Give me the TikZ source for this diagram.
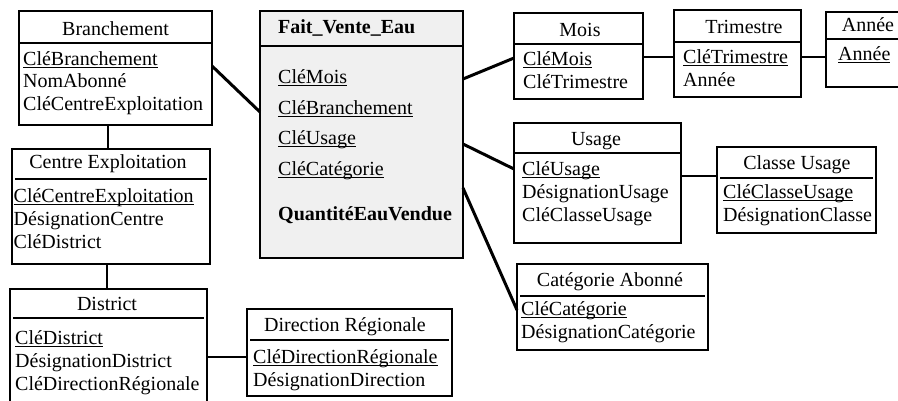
\documentclass[tikz,border=0pt]{standalone}
\usepackage{fontspec}
\setmainfont{Liberation Serif}
% underlined key attribute with a fixed rule depth
\newsavebox\ukbox
\newcommand\ukey[1]{\sbox\ukbox{#1}\rlap{\rule[-2.6pt]{\wd\ukbox}{0.9pt}}\usebox\ukbox}

\begin{document}
\begin{tikzpicture}[x=1pt,y=-1pt,
  box/.style={draw,line width=1.1pt,inner sep=0pt,outer sep=0pt,anchor=north west},
  sepline/.style={line width=1.4pt},
  txt/.style={inner sep=0pt,anchor=base west,font=\fontsize{20}{23}\selectfont},
  ttl/.style={inner sep=0pt,anchor=base,font=\fontsize{20}{23}\selectfont},
  thinlink/.style={line width=1.4pt},
  thicklink/.style={line width=3pt}]
\useasboundingbox (0,0) rectangle (898,400);
\clip (0,0) rectangle (898,400);

% ---------- fact table ----------
\node[box,fill=gray!12,minimum width=203pt,minimum height=247pt] (fait) at (260,11) {};
\draw[sepline] ([yshift=-35pt]fait.north west) -- ([yshift=-35pt]fait.north east);
\node[txt,font=\fontsize{20}{23}\selectfont\bfseries] (f0) at (278,33) {Fait\_Vente\_Eau};
\node[txt] (f1) at (278,83.5) {\ukey{CléMois}};
\node[txt] (f2) at (278,114) {\ukey{CléBranchement}};
\node[txt] (f3) at (278,144) {\ukey{CléUsage}};
\node[txt] (f4) at (278,175) {\ukey{CléCatégorie}};
\node[txt,font=\fontsize{20}{23}\selectfont\bfseries] (f5) at (278,220) {QuantitéEauVendue};

% ---------- Branchement ----------
\node[box,minimum width=193pt,minimum height=114pt] (branch) at (19,11) {};
\draw[sepline] ([yshift=-32pt]branch.north west) -- ([yshift=-32pt]branch.north east);
\node[ttl] (b0) at (115.5,35) {Branchement};
\node[txt] (b1) at (23,65) {\ukey{CléBranchement}};
\node[txt] (b2) at (23,87.5) {NomAbonné};
\node[txt] (b3) at (23,110) {CléCentreExploitation};

% ---------- Centre Exploitation ----------
\node[box,minimum width=198pt,minimum height=115pt] (centre) at (12,149) {};
\draw[sepline] ([shift={(3pt,-30pt)}]centre.north west) -- ([shift={(-3pt,-30pt)}]centre.north east);
\node[ttl] (c0) at (108,168) {Centre Exploitation};
\node[txt] (c1) at (13.5,202) {\ukey{CléCentreExploitation}};
\node[txt] (c2) at (13.5,225) {DésignationCentre};
\node[txt] (c3) at (13.5,248) {CléDistrict};

% ---------- District ----------
\node[box,minimum width=197pt,minimum height=125pt] (district) at (10,289) {};
\draw[sepline] ([shift={(3pt,-29pt)}]district.north west) -- ([shift={(-3pt,-29pt)}]district.north east);
\node[ttl] (d0) at (107,310) {District};
\node[txt] (d1) at (15,344) {\ukey{CléDistrict}};
\node[txt] (d2) at (15,367) {DésignationDistrict};
\node[txt] (d3) at (15,390) {CléDirectionRégionale};

% ---------- Direction Régionale ----------
\node[box,minimum width=205pt,minimum height=87pt] (direction) at (247,309) {};
\draw[sepline] ([shift={(3pt,-31pt)}]direction.north west) -- ([shift={(-3pt,-31pt)}]direction.north east);
\node[ttl] (r0) at (345,331) {Direction Régionale};
\node[txt] (r1) at (253,363) {\ukey{CléDirectionRégionale}};
\node[txt] (r2) at (253,386) {DésignationDirection};

% ---------- Mois ----------
\node[box,minimum width=129pt,minimum height=86pt] (mois) at (514,13) {};
\draw[sepline] ([yshift=-31pt]mois.north west) -- ([yshift=-31pt]mois.north east);
\node[ttl] (m0) at (580,36) {Mois};
\node[txt] (m1) at (523,65) {\ukey{CléMois}};
\node[txt] (m2) at (523,88) {CléTrimestre};

% ---------- Trimestre ----------
\node[box,minimum width=127pt,minimum height=87pt] (trimestre) at (674,10) {};
\draw[sepline] ([yshift=-32pt]trimestre.north west) -- ([yshift=-32pt]trimestre.north east);
\node[ttl] (q0) at (744,33) {Trimestre};
\node[txt] (q1) at (683,63) {\ukey{CléTrimestre}};
\node[txt] (q2) at (683,86) {Année};

% ---------- Année ----------
\node[box,minimum width=90pt,minimum height=75pt] (annee) at (826,12) {};
\draw[sepline] ([yshift=-27pt]annee.north west) -- ([yshift=-27pt]annee.north east);
\node[ttl] (a0) at (868,31) {Année};
\node[txt] (a1) at (838,60) {\ukey{Année}};

% ---------- Usage ----------
\node[box,minimum width=167pt,minimum height=120pt] (usage) at (514,123) {};
\draw[sepline] ([yshift=-30pt]usage.north west) -- ([yshift=-30pt]usage.north east);
\node[ttl] (u0) at (596,145) {Usage};
\node[txt] (u1) at (522,175) {\ukey{CléUsage}};
\node[txt] (u2) at (522,198) {DésignationUsage};
\node[txt] (u3) at (522,221) {CléClasseUsage};

% ---------- Classe Usage ----------
\node[box,minimum width=159pt,minimum height=86pt] (classe) at (717,147) {};
\draw[sepline] ([shift={(3pt,-31pt)}]classe.north west) -- ([shift={(-3pt,-31pt)}]classe.north east);
\node[ttl] (k0) at (797,169) {Classe Usage};
\node[txt] (k1) at (723,198) {\ukey{CléClasseUsage}};
\node[txt] (k2) at (723,221) {DésignationClasse};

% ---------- Catégorie Abonné ----------
\node[box,minimum width=191pt,minimum height=86pt] (categorie) at (517,264) {};
\draw[sepline] ([shift={(3pt,-32pt)}]categorie.north west) -- ([shift={(-3pt,-32pt)}]categorie.north east);
\node[ttl] (g0) at (610,286) {Catégorie Abonné};
\node[txt] (g1) at (521,315) {\ukey{CléCatégorie}};
\node[txt] (g2) at (521,338) {DésignationCatégorie};

% ---------- links between fact table and dimensions ----------
\draw[thicklink] ([yshift=-55pt]branch.north east) -- ([yshift=-101pt]fait.north west);
\draw[thicklink] ([yshift=-68pt]fait.north east) -- ([yshift=-45pt]mois.north west);
\draw[thicklink] ([yshift=-133pt]fait.north east) -- ([yshift=-46pt]usage.north west);
\draw[thicklink] ([yshift=-177pt]fait.north east) -- ([yshift=-46pt]categorie.north west);

% ---------- links inside dimension hierarchies ----------
\draw[thinlink] ([xshift=89pt]branch.south west) -- ([xshift=96pt]centre.north west);
\draw[thinlink] ([xshift=95pt]centre.south west) -- ([xshift=97pt]district.north west);
\draw[thinlink] ([yshift=-68pt]district.north east) -- ([yshift=-48pt]direction.north west);
\draw[thinlink] ([yshift=-44pt]mois.north east) -- ([yshift=-47pt]trimestre.north west);
\draw[thinlink] ([yshift=-47pt]trimestre.north east) -- ([yshift=-45pt]annee.north west);
\draw[thinlink] ([yshift=-53pt]usage.north east) -- ([yshift=-29pt]classe.north west);
\end{tikzpicture}
\end{document}
